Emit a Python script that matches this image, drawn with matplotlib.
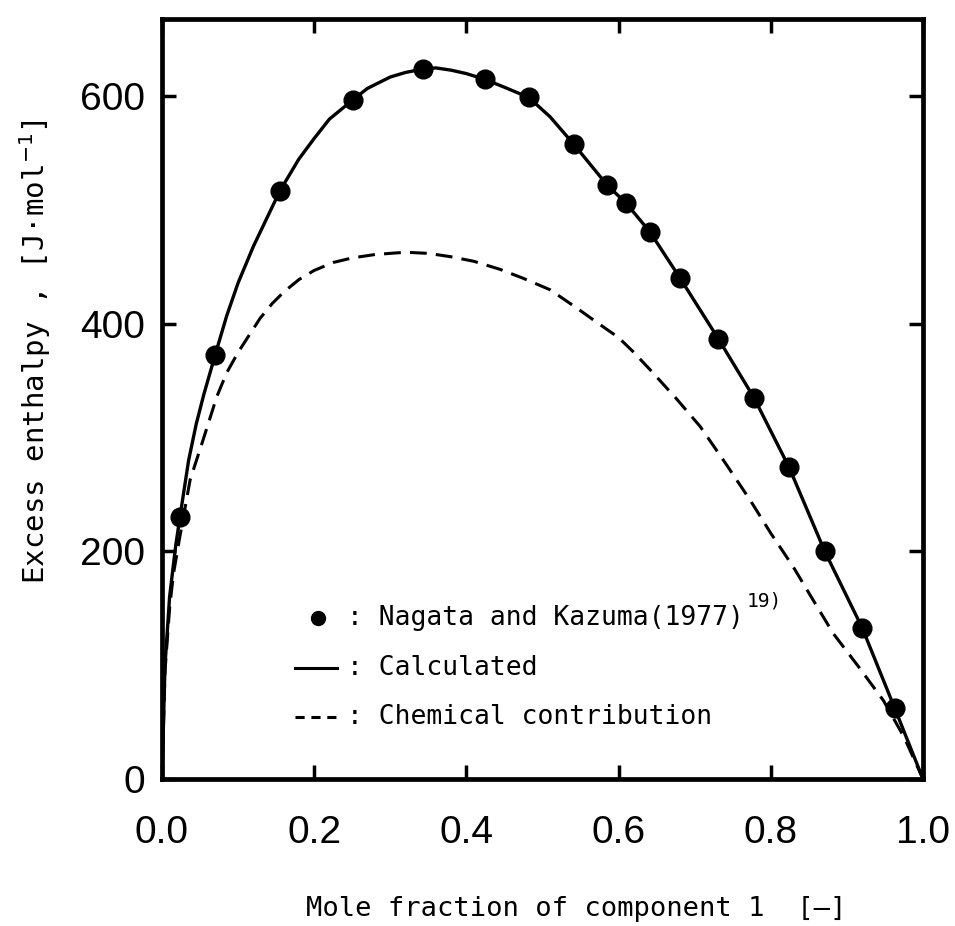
import matplotlib
matplotlib.use("Agg")
import matplotlib.pyplot as plt
import numpy as np

# measured points (Nagata and Kazuma 1977)
x_exp = [0.024, 0.070, 0.155, 0.251, 0.343, 0.424, 0.482, 0.541, 0.585, 0.610,
         0.641, 0.681, 0.731, 0.778, 0.824, 0.871, 0.920, 0.963]
h_exp = [230, 373, 517, 597, 624, 615, 599, 558, 522, 506,
         481, 440, 387, 335, 274, 200, 133, 62]

# calculated curve
x_calc = [0.0, 0.004, 0.010, 0.018, 0.024, 0.035, 0.045, 0.055, 0.070, 0.085,
          0.100, 0.120, 0.155, 0.180, 0.200, 0.220, 0.251, 0.270, 0.300, 0.320,
          0.343, 0.360, 0.380, 0.400, 0.424, 0.450, 0.482, 0.510, 0.541, 0.585,
          0.610, 0.641, 0.681, 0.731, 0.778, 0.824, 0.871, 0.920, 0.963, 1.0]
h_calc = [0, 100, 160, 205, 232, 280, 312, 338, 373, 407,
          436, 468, 517, 545, 563, 580, 597, 607, 617, 621,
          624, 625, 623, 620, 615, 608, 599, 582, 558, 522,
          506, 481, 440, 387, 335, 274, 200, 133, 62, 0]

# chemical contribution (dashed)
x_chem = [0.0, 0.004, 0.010, 0.015, 0.024, 0.037, 0.054, 0.072, 0.085, 0.100,
          0.129, 0.145, 0.160, 0.180, 0.200, 0.225, 0.250, 0.280, 0.320, 0.350,
          0.380, 0.410, 0.444, 0.475, 0.510, 0.545, 0.570, 0.600, 0.620, 0.641,
          0.675, 0.707, 0.740, 0.773, 0.800, 0.829, 0.855, 0.882, 0.915, 0.948,
          0.975, 1.0]
h_chem = [0, 95, 150, 180, 215, 263, 298, 336, 357, 375,
          405, 418, 428, 439, 447, 454, 458, 461, 463, 462,
          459, 455, 448, 440, 430, 414, 402, 388, 375, 360,
          335, 310, 278, 245, 216, 187, 158, 128, 99, 69,
          37, 0]

xticks = [0.0, 0.2, 0.4, 0.6, 0.8, 1.0]
yticks = [0, 200, 400, 600]

mono = "DejaVu Sans Mono"
tickfont = "Liberation Sans"

fig = plt.figure(figsize=(9.55, 9.26), dpi=100)
ax = fig.add_axes([0.1696, 0.1587, 0.7969, 0.8208])

ax.plot(x_calc, h_calc, color="black", lw=2.4, solid_joinstyle="round")
ax.plot(x_chem, h_chem, color="black", lw=2.2, dashes=(5.5, 3.0))
ax.plot(x_exp, h_exp, "o", color="black", ms=13.5, zorder=5)

ax.set_xlim(0, 1.0)
ax.set_ylim(0, 668)
ax.set_xticks(xticks)
ax.set_yticks(yticks)
ax.set_xticklabels(["%.1f" % v for v in xticks], family=tickfont, fontsize=28)
ax.set_yticklabels([str(v) for v in yticks], family=tickfont, fontsize=28)
ax.tick_params(direction="in", top=True, right=True, length=10, width=2.5)
ax.tick_params(axis="x", pad=26)
ax.tick_params(axis="y", pad=12)
for s in ax.spines.values():
    s.set_linewidth(3.4)

# legend drawn by hand, like the original
ax.plot([0.205], [0.212], "o", color="black", ms=10, transform=ax.transAxes, clip_on=False)
ax.text(0.243, 0.212, ": Nagata and Kazuma(1977)", family=mono, fontsize=19,
        va="center", ha="left", transform=ax.transAxes)
ax.text(0.768, 0.234, "19)", family=mono, fontsize=14,
        va="center", ha="left", transform=ax.transAxes)
ax.plot([0.175, 0.230], [0.146, 0.146], color="black", lw=2.2, transform=ax.transAxes)
ax.text(0.243, 0.146, ": Calculated", family=mono, fontsize=19,
        va="center", ha="left", transform=ax.transAxes)
ax.plot([0.175, 0.230], [0.082, 0.082], color="black", lw=2.2, dashes=(3, 2.2),
        transform=ax.transAxes)
ax.text(0.243, 0.082, ": Chemical contribution", family=mono, fontsize=19,
        va="center", ha="left", transform=ax.transAxes)

fig.text(0.603, 0.004, "Mole fraction of component 1  [\u2014]", family=mono,
         fontsize=19.5, ha="center", va="bottom")
fig.text(0.037, 0.62, "Excess enthalpy , [J\u00b7mol$^{-1}$]", family=mono,
         fontsize=21, rotation=90, ha="center", va="center")

fig.savefig("out.png", dpi=100)
